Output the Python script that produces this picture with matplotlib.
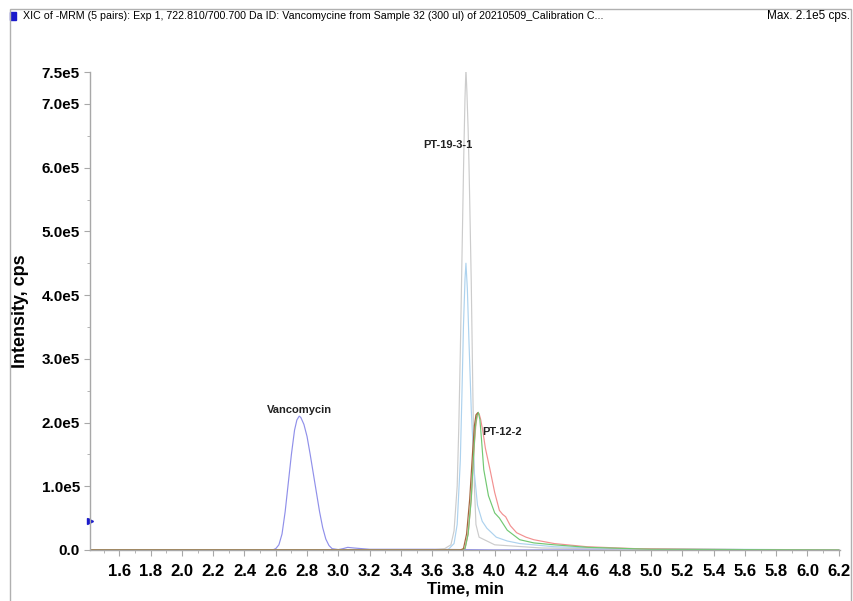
import matplotlib.pyplot as plt
import matplotlib.patches as mpatches
from matplotlib.ticker import MultipleLocator, FixedLocator
import numpy as np

plt.rcParams['font.family'] = ['Liberation Sans', 'DejaVu Sans']

# traces (time in min, intensity in cps)
vanco_t = [1.42, 2.50, 2.58, 2.60, 2.62, 2.64, 2.66, 2.68, 2.70, 2.72, 2.735, 2.75, 2.76,
           2.78, 2.80, 2.82, 2.84, 2.86, 2.88, 2.90, 2.92, 2.94, 2.96, 3.00, 3.03, 3.06,
           3.10, 3.20, 3.60, 4.00, 5.00, 6.20]
vanco_i = [0, 0, 0, 2e3, 8e3, 2.5e4, 6e4, 1.05e5, 1.5e5, 1.88e5, 2.04e5, 2.1e5, 2.08e5,
           1.97e5, 1.78e5, 1.5e5, 1.2e5, 0.9e5, 0.6e5, 0.35e5, 0.17e5, 0.07e5, 0.02e5,
           0.5e3, 2e3, 4e3, 3e3, 1e3, 1e3, 0, 0, 0]

pt19_t = [1.42, 3.60, 3.68, 3.72, 3.74, 3.76, 3.77, 3.78, 3.79, 3.80, 3.803, 3.81, 3.816,
          3.822, 3.83, 3.835, 3.84, 3.85, 3.86, 3.87, 3.88, 3.90, 4.00, 4.30, 5.00, 6.20]
pt19_i = [0, 0, 2e3, 8e3, 3e4, 1.0e5, 1.9e5, 3.1e5, 4.5e5, 5.9e5, 6.3e5, 7.1e5, 7.55e5,
          7.2e5, 6.6e5, 6.1e5, 5.5e5, 4.2e5, 2.5e5, 1.0e5, 4e4, 2e4, 8e3, 3e3, 1e3, 0]

blue_t = [1.42, 3.70, 3.74, 3.76, 3.78, 3.79, 3.80, 3.81, 3.816, 3.825, 3.835, 3.85,
          3.87, 3.89, 3.92, 3.95, 4.01, 4.08, 4.16, 4.38, 4.80, 6.20]
blue_i = [0, 0, 1e4, 4e4, 1.4e5, 2.4e5, 3.5e5, 4.25e5, 4.5e5, 4.1e5, 3.3e5, 2.2e5,
          1.2e5, 0.7e5, 0.45e5, 0.34e5, 0.2e5, 0.14e5, 0.1e5, 0.05e5, 0.02e5, 0]

brown_t = [1.42, 3.78, 3.80, 3.82, 3.84, 3.86, 3.87, 3.88, 3.89]
brown_i = [0, 0, 2e3, 2.5e4, 8e4, 1.6e5, 1.95e5, 2.12e5, 2.15e5]

green_t = [1.42, 3.79, 3.81, 3.83, 3.85, 3.865, 3.875, 3.885, 3.895, 3.905, 3.915, 3.93,
           3.96, 4.00, 4.03, 4.08, 4.16, 4.25, 4.38, 4.60, 5.00, 6.20]
green_i = [0, 0, 2e3, 2.5e4, 8e4, 1.5e5, 1.9e5, 2.1e5, 2.16e5, 2.05e5, 1.75e5, 1.26e5,
           0.85e5, 0.58e5, 0.5e5, 0.31e5, 0.16e5, 0.11e5, 0.08e5, 0.04e5, 0.01e5, 0]

red_t = [1.42, 3.79, 3.81, 3.83, 3.85, 3.865, 3.88, 3.89, 3.90, 3.91, 3.925, 3.94,
         3.97, 4.00, 4.03, 4.05, 4.07, 4.10, 4.14, 4.20, 4.25, 4.38, 4.59, 4.90, 5.30,
         5.60, 6.20]
red_i = [0, 0, 2e3, 2.5e4, 8e4, 1.5e5, 1.98e5, 2.12e5, 2.14e5, 2.05e5, 1.85e5, 1.6e5,
         1.26e5, 0.9e5, 0.62e5, 0.56e5, 0.52e5, 0.38e5, 0.27e5, 0.2e5, 0.16e5, 0.1e5,
         0.05e5, 0.02e5, 0.01e5, 0.005e5, 0]

peak_labels = ['Vancomycin', 'PT-19-3-1', 'PT-12-2']
peak_label_t = [2.75, 3.70, 4.05]
peak_label_i = [2.12e5, 6.28e5, 1.77e5]

y_ticks = [0, 1e5, 2e5, 3e5, 4e5, 5e5, 6e5, 7e5, 7.5e5]
y_tick_labels = ['0.0', '1.0e5', '2.0e5', '3.0e5', '4.0e5', '5.0e5', '6.0e5', '7.0e5', '7.5e5']
x_ticks = np.round(np.arange(1.6, 6.21, 0.2), 1)

fig = plt.figure(figsize=(8.54, 6.01), dpi=100)
ax = fig.add_axes([0.105, 0.085, 0.879, 0.795])

ax.plot(vanco_t, vanco_i, color='#9090ea', lw=0.85)
ax.plot(pt19_t, pt19_i, color='#cccccc', lw=0.85)
ax.plot(blue_t, blue_i, color='#add2ee', lw=0.85)
ax.plot(red_t, red_i, color='#f29090', lw=0.85)
ax.plot(green_t, green_i, color='#72c872', lw=0.85)
ax.plot(brown_t, brown_i, color='#a5673f', lw=0.85)

for lab, t, i in zip(peak_labels, peak_label_t, peak_label_i):
    ax.text(t, i, lab, ha='center', va='bottom', fontsize=8, fontweight='bold', color='#222222')

ax.set_xlim(1.41, 6.21)
ax.set_ylim(0, 7.5e5)
ax.xaxis.set_major_locator(FixedLocator(x_ticks))
ax.xaxis.set_minor_locator(MultipleLocator(0.1))
ax.set_xticklabels([f'{v:.1f}' for v in x_ticks])
ax.yaxis.set_major_locator(FixedLocator(y_ticks))
ax.yaxis.set_minor_locator(MultipleLocator(0.5e5))
ax.set_yticklabels(y_tick_labels)

for s in ['top', 'right']:
    ax.spines[s].set_visible(False)
for s in ['left', 'bottom']:
    ax.spines[s].set_color('#a8a8a8')
    ax.spines[s].set_linewidth(1)
ax.tick_params(which='both', direction='out', color='#a8a8a8')
ax.tick_params(which='major', length=4)
ax.tick_params(which='minor', length=2)
ax.tick_params(axis='x', labelsize=12, pad=6)
ax.tick_params(axis='y', labelsize=11, pad=3)
for lbl in ax.get_xticklabels() + ax.get_yticklabels():
    lbl.set_fontweight('bold')

ax.set_xlabel('Time, min', fontsize=12, fontweight='bold', labelpad=2)
ax.set_ylabel('Intensity, cps', fontsize=13, fontweight='bold', labelpad=9)

# small blue marker on the y axis
ax.plot([1.41], [0.46e5], marker='>', color='#1a1acc', ms=5, clip_on=False)

# header
fig.add_artist(mpatches.Rectangle((0.012, 0.966), 0.007, 0.014, transform=fig.transFigure,
                                  color='#1a1acc'))
fig.text(0.027, 0.973, 'XIC of -MRM (5 pairs): Exp 1, 722.810/700.700 Da ID: Vancomycine from Sample 32 (300 ul) of 20210509_Calibration C...',
         fontsize=7.7, va='center', ha='left')
fig.text(0.995, 0.973, 'Max. 2.1e5 cps.', fontsize=8.5, va='center', ha='right')

# outer frame
fig.add_artist(mpatches.Rectangle((0.012, -0.01), 0.985, 0.995, transform=fig.transFigure,
                                  fill=False, edgecolor='#b0b0b0', lw=1))

fig.savefig('out.png', dpi=100)
